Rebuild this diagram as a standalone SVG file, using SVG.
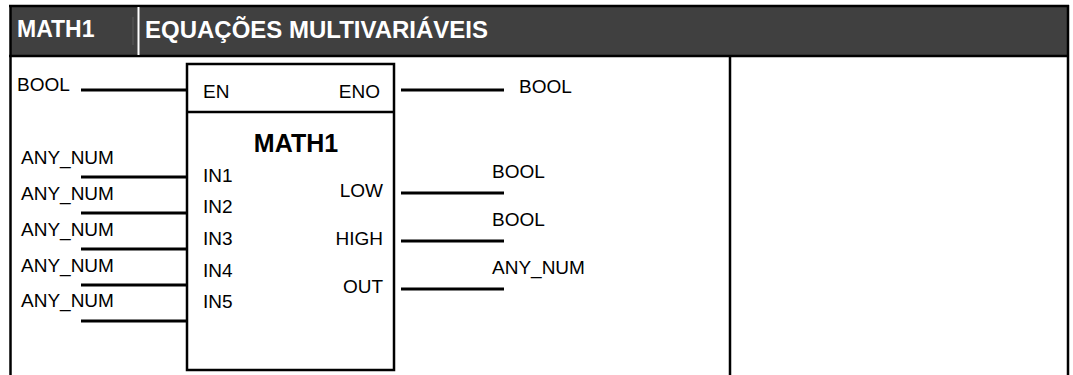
<svg xmlns="http://www.w3.org/2000/svg" width="1073" height="375" viewBox="0 0 1073 375">
<style>
.t{font-family:"Liberation Sans",Arial,sans-serif;font-size:19px;fill:#000}
.h{font-family:"Liberation Sans",Arial,sans-serif;font-weight:bold;font-size:23px;fill:#fff}
.b{font-family:"Liberation Sans",Arial,sans-serif;font-weight:bold;font-size:25px;fill:#000}
.ln{stroke:#000;stroke-width:3;fill:none}
.fr{stroke:#000;stroke-width:2.5;fill:none}
</style>
<rect width="1073" height="375" fill="#fff"/>
<g id="frame">
<rect x="10" y="6" width="1058" height="50" fill="#404040"/>
<line class="fr" x1="9" y1="6" x2="1069" y2="6"/>
<line class="fr" x1="9" y1="56" x2="1069" y2="56"/>
<line class="fr" x1="10.5" y1="5" x2="10.5" y2="375"/>
<line class="fr" x1="1068" y1="5" x2="1068" y2="375"/>
<line class="fr" x1="730" y1="56" x2="730" y2="375"/>
<line x1="133" y1="17" x2="133" y2="45" stroke="#5a5a5a" stroke-width="1"/>
<line x1="138.5" y1="7" x2="138.5" y2="55" stroke="#fff" stroke-width="2"/>
<text class="h" x="17" y="37">MATH1</text>
<text class="h" x="145" y="38" textLength="343" lengthAdjust="spacingAndGlyphs">EQUAÇÕES MULTIVARIÁVEIS</text>
</g>
<g id="block">
<rect x="187" y="64" width="207" height="306" fill="#fff" stroke="#000" stroke-width="2.5"/>
<line class="fr" x1="187" y1="112" x2="394" y2="112"/>
<text class="t" x="203" y="98">EN</text>
<text class="t" x="380" y="98" text-anchor="end">ENO</text>
<text class="b" x="296" y="152" text-anchor="middle">MATH1</text>
<text class="t" x="203" y="182">IN1</text>
<text class="t" x="203" y="213">IN2</text>
<text class="t" x="203" y="245">IN3</text>
<text class="t" x="203" y="277">IN4</text>
<text class="t" x="203" y="308">IN5</text>
<text class="t" x="383" y="197" text-anchor="end">LOW</text>
<text class="t" x="383" y="245" text-anchor="end">HIGH</text>
<text class="t" x="383" y="293" text-anchor="end">OUT</text>
</g>
<g id="inputs">
<text class="t" x="17" y="91">BOOL</text>
<text class="t" x="21" y="164">ANY_NUM</text>
<text class="t" x="21" y="200">ANY_NUM</text>
<text class="t" x="21" y="236">ANY_NUM</text>
<text class="t" x="21" y="272">ANY_NUM</text>
<text class="t" x="21" y="307">ANY_NUM</text>
</g>
<g id="outputs">
<text class="t" x="519" y="93">BOOL</text>
<text class="t" x="492" y="178">BOOL</text>
<text class="t" x="492" y="226">BOOL</text>
<text class="t" x="492" y="274">ANY_NUM</text>
</g>
<g id="connectors">
<line class="ln" x1="81" y1="90" x2="187" y2="90"/>
<line class="ln" x1="81" y1="177" x2="187" y2="177"/>
<line class="ln" x1="81" y1="213" x2="187" y2="213"/>
<line class="ln" x1="81" y1="249" x2="187" y2="249"/>
<line class="ln" x1="81" y1="285" x2="187" y2="285"/>
<line class="ln" x1="81" y1="321" x2="187" y2="321"/>
<line class="ln" x1="401" y1="90" x2="504" y2="90"/>
<line class="ln" x1="401" y1="193" x2="504" y2="193"/>
<line class="ln" x1="401" y1="241" x2="504" y2="241"/>
<line class="ln" x1="401" y1="289" x2="504" y2="289"/>
</g>
</svg>
